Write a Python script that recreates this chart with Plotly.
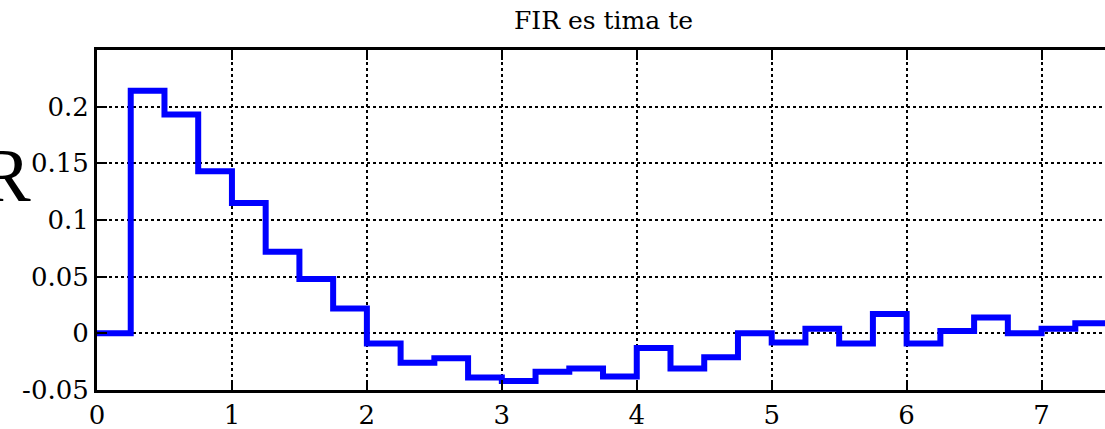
import plotly.graph_objects as go

# FIR coefficients, one per 0.25 s step
step = 0.25
coeffs = [0.0, 0.214, 0.193, 0.143, 0.115, 0.072, 0.048, 0.022,
          -0.009, -0.026, -0.022, -0.039, -0.042, -0.034, -0.031, -0.038,
          -0.013, -0.031, -0.021, 0.000, -0.008, 0.004, -0.009, 0.017,
          -0.009, 0.002, 0.014, 0.000, 0.004, 0.009]
x_ticks = [0, 1, 2, 3, 4, 5, 6, 7]
y_ticks = [-0.05, 0, 0.05, 0.1, 0.15, 0.2]
y_tick_text = ["-0.05", "0", "0.05", "0.1", "0.15", "0.2"]

xs = [i * step for i in range(len(coeffs) + 1)]
ys = coeffs + [coeffs[-1]]

tick_family = "DejaVu Serif"
label_family = "Liberation Serif"

fig = go.Figure()
fig.add_trace(go.Scatter(
    x=xs, y=ys, mode="lines", line_shape="hv",
    line=dict(color="#0000FF", width=6),
    showlegend=False, hoverinfo="skip",
))

fig.update_layout(
    width=1105, height=429,
    margin=dict(l=97, r=0, t=50, b=39),
    plot_bgcolor="white", paper_bgcolor="white",
    font=dict(family=tick_family, color="black", size=26),
    annotations=[
        dict(text="FIR es tima te", xref="paper", yref="paper",
             x=0.502, y=1.0, xanchor="center", yanchor="bottom", yshift=13,
             showarrow=False, font=dict(size=25, family=tick_family)),
        dict(text="R", xref="paper", yref="paper",
             x=0.0, y=0.632, xanchor="left", yanchor="middle", xshift=-119,
             showarrow=False, font=dict(size=76, family=label_family)),
    ],
)
fig.update_xaxes(
    range=[0, 7.47], tickvals=x_ticks, ticktext=[str(v) for v in x_ticks],
    showline=True, linecolor="black", linewidth=3, mirror="ticks",
    ticks="inside", ticklen=10, tickwidth=2, tickcolor="black",
    showgrid=True, gridcolor="black", griddash="dot", gridwidth=1.5,
    zeroline=False, tickfont=dict(size=26, family=tick_family),
)
fig.update_yaxes(
    range=[-0.05, 0.25], tickvals=y_ticks, ticktext=y_tick_text,
    showline=True, linecolor="black", linewidth=3,
    ticks="inside", ticklen=10, tickwidth=2, tickcolor="black",
    showgrid=True, gridcolor="black", griddash="dot", gridwidth=1.5,
    zeroline=False, tickfont=dict(size=26, family=tick_family),
)

fig.write_html("out.html")
